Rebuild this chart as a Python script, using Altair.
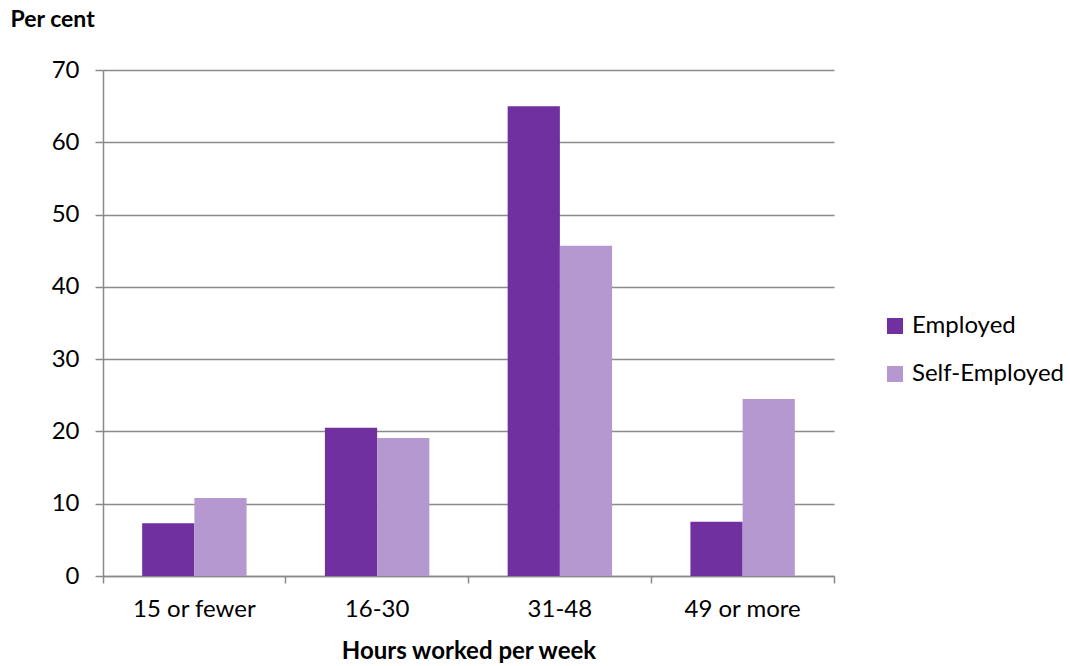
import altair as alt
import pandas as pd

# Share of workers by weekly hours, employees vs self-employed
hours = ["15 or fewer", "16-30", "31-48", "49 or more"]
employed = [7.3, 20.5, 65.0, 7.5]
self_employed = [10.8, 19.1, 45.7, 24.5]
groups = ["Employed", "Self-Employed"]
colors = ["#7030A0", "#B598D0"]

rows = []
for h, e, s in zip(hours, employed, self_employed):
    rows.append({"hours": h, "group": groups[0], "pct": e})
    rows.append({"hours": h, "group": groups[1], "pct": s})
df = pd.DataFrame(rows)

FONT = "Lato"
GRID = "#8a8a8a"

bars = alt.Chart(df).mark_bar().encode(
    x=alt.X(
        "hours:N",
        sort=hours,
        scale=alt.Scale(paddingInner=0, paddingOuter=0),
        axis=alt.Axis(
            title="Hours worked per week",
            titleFont=FONT, titleFontSize=24, titleFontWeight="bold", titleColor="#000",
            titleY=75, titleBaseline="middle",
            labelFont=FONT, labelFontSize=24, labelColor="#000", labelPadding=14,
            labelAngle=0,
            bandPosition=1, tickExtra=True,
            tickSize=7, tickColor=GRID, tickWidth=1.5,
            domainColor=GRID, domainWidth=1.5, grid=False,
        ),
    ),
    xOffset=alt.XOffset("group:N", sort=groups, scale=alt.Scale(paddingOuter=0.75, paddingInner=0)),
    y=alt.Y(
        "pct:Q",
        scale=alt.Scale(domain=[0, 70], nice=False),
        axis=alt.Axis(
            title="Per cent",
            titleAngle=0, titleAlign="left", titleBaseline="middle",
            titleX=-93, titleY=-51,
            titleFont=FONT, titleFontSize=23, titleFontWeight="bold", titleColor="#000",
            values=[0, 10, 20, 30, 40, 50, 60, 70],
            labelFont=FONT, labelFontSize=24, labelColor="#000", labelPadding=16,
            tickSize=8, tickColor=GRID, tickWidth=1.5,
            domainColor=GRID, domainWidth=1.5,
            grid=True, gridColor=GRID, gridWidth=1.4,
        ),
    ),
    color=alt.Color(
        "group:N",
        sort=groups,
        scale=alt.Scale(domain=groups, range=colors),
        legend=alt.Legend(
            title=None, orient="none", legendX=780, legendY=244,
            symbolType="square", symbolSize=256, symbolStrokeWidth=0,
            symbolOpacity=1,
            labelFont=FONT, labelFontSize=24, labelColor="#000",
            rowPadding=24, labelOffset=5,
        ),
    ),
)

chart = bars.properties(
    width=731,
    height=506,
    autosize=alt.AutoSizeParams(type="none"),
    padding={"left": 103, "top": 70, "right": 236, "bottom": 90},
    background="white",
).configure_view(stroke=None)

chart.save("out.html", embed_options={"renderer": "svg", "actions": False})
